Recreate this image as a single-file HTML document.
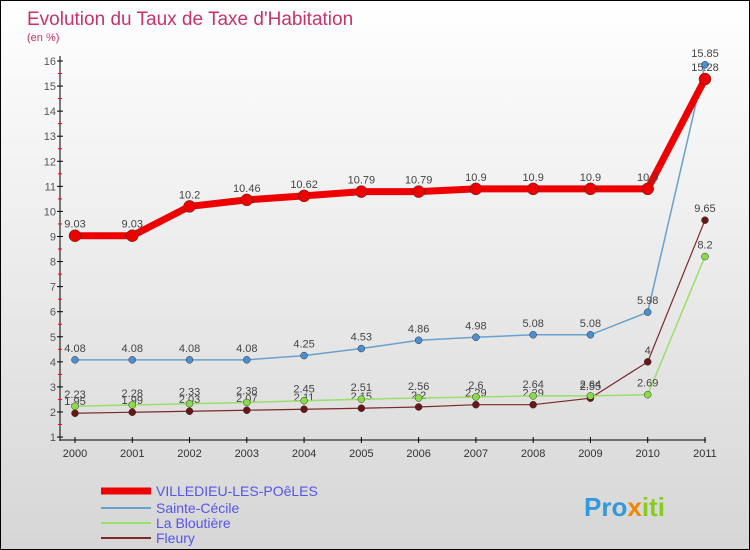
<!DOCTYPE html>
<html><head><meta charset="utf-8"><style>
body{margin:0}
#c{width:748px;height:548px;border:1px solid #000;background:linear-gradient(#fff,#d6d6d6);position:relative;font-family:"Liberation Sans",sans-serif;overflow:hidden}
</style></head><body>
<div id="c">
<svg id="s" width="748" height="548"></svg>
</div>
<script>
const years=["2000","2001","2002","2003","2004","2005","2006","2007","2008","2009","2010","2011"];
const villedieu=[9.03,9.03,10.2,10.46,10.62,10.79,10.79,10.9,10.9,10.9,10.9,15.28];
const sainteCecile=[4.08,4.08,4.08,4.08,4.25,4.53,4.86,4.98,5.08,5.08,5.98,15.85];
const bloutiere=[2.23,2.28,2.33,2.38,2.45,2.51,2.56,2.6,2.64,2.64,2.69,8.2];
const fleury=[1.95,1.99,2.03,2.07,2.11,2.15,2.2,2.29,2.29,2.55,4,9.65];
const yTicks=[1,2,3,4,5,6,7,8,9,10,11,12,13,14,15,16];
const NS="http://www.w3.org/2000/svg";
const s=document.getElementById('s');
function X(i){return 74+i*57.27;}
function Y(v){return 60+(16-v)*25.07;}
function el(t,a,txt){const e=document.createElementNS(NS,t);for(const k in a)e.setAttribute(k,a[k]);if(txt!==undefined)e.textContent=txt;s.appendChild(e);return e;}
let e;
e=el('text',{x:26,y:24,'font-size':19,fill:'#c8336b'},"Evolution du Taux de Taxe d'Habitation");

e=el('text',{x:26,y:40,'font-size':11,fill:'#c8336b'},"(en %)");

e=el('line',{x1:59,y1:55,x2:59,y2:440,stroke:'#000'});

e=el('line',{x1:59,y1:439,x2:705,y2:439,stroke:'#000'});

yTicks.forEach(v=>{
  el('line',{x1:56,x2:62,y1:Y(v),y2:Y(v),stroke:'#000'});
  if(v<16)el('line',{x1:57,x2:61,y1:Y(v+0.5),y2:Y(v+0.5),stroke:'#f00'});
  e=el('text',{x:55,y:Y(v)+4,'font-size':11,fill:'#555','text-anchor':'end'},v);
  
});
years.forEach((y,i)=>{
  el('line',{x1:X(i),x2:X(i),y1:436,y2:442,stroke:'#000'});
  e=el('text',{x:X(i),y:456,'font-size':11,fill:'#333','text-anchor':'middle'},y);
  
});
function series(data,color,w,r,dot,name){
  const pts=data.map((v,i)=>X(i)+','+Y(v)).join(' ');
  e=el('polyline',{points:pts,fill:'none',stroke:color,'stroke-width':w});
  
  data.forEach((v,i)=>{
    e=el('circle',{cx:X(i),cy:Y(v),r:r,fill:dot,stroke:'#333','stroke-width':0.5});
    
    e=el('text',{x:X(i),y:Y(v)-8,'font-size':11,fill:'#444','text-anchor':'middle'},String(v));
    
  });
}
series(fleury,'#7a2a2a',1.2,3.5,'#6a1515','fleury');
series(bloutiere,'#99e066',1.5,3.5,'#88dd44','la-bloutiere');
series(sainteCecile,'#6aa0cc',1.5,3.5,'#4b8fd0','sainte-cecile');
series(villedieu,'#ee0000',7,6,'#ee0000','villedieu');
const leg=[["VILLEDIEU-LES-POêLES","#ee0000",7],["Sainte-Cécile","#6aa0cc",2],["La Bloutière","#99e066",2],["Fleury","#7a2a2a",2]];
const ly=[490,507,522,537];
leg.forEach((l,i)=>{
  e=el('line',{x1:100,x2:150,y1:ly[i],y2:ly[i],stroke:l[1],'stroke-width':l[2]});
  
  e=el('text',{x:155,y:ly[i]+5,'font-size':14,fill:'#5555ee'},l[0]);
  
});
e=el('text',{x:583,y:515,'font-size':26,'font-weight':'bold'});

e.innerHTML='<tspan fill="#3399dd">Pro</tspan><tspan fill="#ee8800">x</tspan><tspan fill="#88cc22">iti</tspan>';
</script>
</body></html>
